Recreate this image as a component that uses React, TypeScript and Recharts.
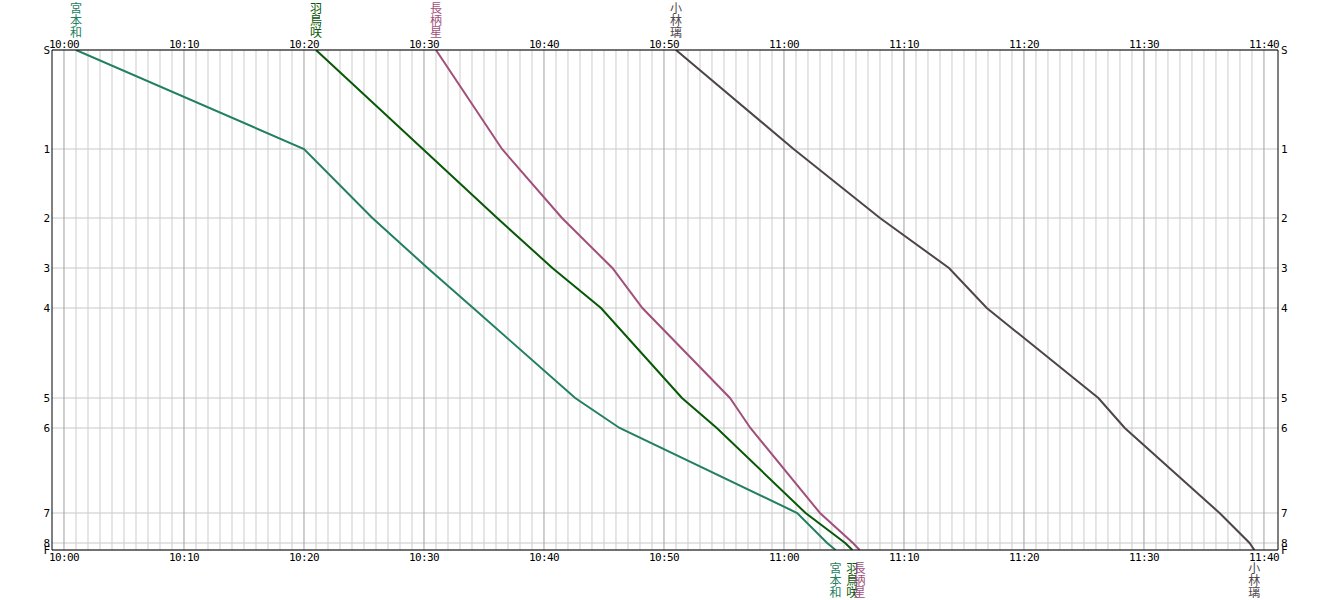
import { LineChart, Line, XAxis, YAxis, CartesianGrid, ReferenceLine, LabelList } from 'recharts'

// station labels and their distance along the course (chart units)
const stationNames = ['S', '1', '2', '3', '4', '5', '6', '7', '8', 'F']
const stationDist = [0, 99, 168, 218, 258, 348, 378, 463, 493, 500]

// passing times per station, minutes after 10:00
const miyamotoTimes = [1, 20, 25.7, 30.3, 34.1, 42.6, 46.3, 61.1, 63.6, 64.3]
const hatoriTimes = [21, 29.9, 36.1, 40.7, 44.75, 51.5, 54.4, 61.8, 65.1, 65.7]
const nagaraTimes = [31, 36.5, 41.5, 45.7, 48.2, 55.5, 57.2, 63, 65.75, 66.3]
const kobayashiTimes = [51, 60.8, 68, 73.75, 76.9, 86.2, 88.4, 96.3, 98.8, 99.2]

const runnerNames = ['宮本和', '羽鳥咲', '長柄星', '小林璃']
const runnerColors = ['#22805f', '#075807', '#a0507a', '#4e4549']
const runnerTimes = [miyamotoTimes, hatoriTimes, nagaraTimes, kobayashiTimes]

const timeTicks = [0, 10, 20, 30, 40, 50, 60, 70, 80, 90, 100]
const minuteLines = Array.from({ length: 101 }, (_, i) => i)

const tickFont = '"DejaVu Sans Mono", "Liberation Mono", monospace'
const nameFont = '"Noto Sans CJK JP", sans-serif'

function fmtTime(m: number): string {
  const h = 10 + Math.floor(m / 60)
  const mm = m % 60
  return `${h}:${mm < 10 ? '0' : ''}${mm}`
}

const TopTick = ({ x, y, payload }: any) => (
  <text x={x} y={y - 2} textAnchor="middle" fontSize={11} letterSpacing={-0.6} fontFamily={tickFont} fill="#000">
    {fmtTime(payload.value)}
  </text>
)
const BottomTick = ({ x, y, payload }: any) => (
  <text x={x} y={y + 11} textAnchor="middle" fontSize={11} letterSpacing={-0.6} fontFamily={tickFont} fill="#000">
    {fmtTime(payload.value)}
  </text>
)
const stationLabel = (v: number) => stationNames[stationDist.indexOf(v)]
const LeftTick = ({ x, y, payload }: any) => (
  <text x={x - 2} y={y + 4} textAnchor="end" fontSize={11} fontFamily={tickFont} fill="#000">
    {stationLabel(payload.value)}
  </text>
)
const RightTick = ({ x, y, payload }: any) => (
  <text x={x + 3} y={y + 4} textAnchor="start" fontSize={11} fontFamily={tickFont} fill="#000">
    {stationLabel(payload.value)}
  </text>
)

function nameLabel(name: string, color: string, last: number) {
  return (p: any) => {
    const x = p.x ?? p.viewBox?.x
    const y = p.y ?? p.viewBox?.y
    if (p.index !== 0 && p.index !== last) return null
    const base = p.index === 0 ? y - 37 : y + 23
    return (
      <g>
        {name.split('').map((c, i) => (
          <text key={i} x={x} y={base + 12 * i} textAnchor="middle" fontSize={12} fontFamily={nameFont} fill={color}>
            {c}
          </text>
        ))}
      </g>
    )
  }
}

export default function App() {
  const series = runnerTimes.map((times) => times.map((t, i) => ({ t, d: stationDist[i] })))
  return (
    <div style={{ position: 'absolute', left: 0, top: 0, background: '#fff' }}>
      <LineChart width={1331} height={600} margin={{ top: 30, bottom: 30, left: 32, right: 33 }}>
        <CartesianGrid xAxisId="b" yAxisId="l" vertical={false} stroke="#c8c8c8" strokeDasharray="" />
        {minuteLines.map((m) => (
          <ReferenceLine
            key={m}
            xAxisId="b"
            yAxisId="l"
            x={m}
            stroke={m % 10 === 0 ? '#a0a0a0' : '#cccccc'}
            strokeWidth={1}
          />
        ))}
        <XAxis
          xAxisId="t"
          orientation="top"
          type="number"
          dataKey="t"
          domain={[-1, 101.17]}
          ticks={timeTicks}
          interval={0}
          height={20}
          tickSize={0}
          tickMargin={0}
          tickLine={false}
          axisLine={{ stroke: '#000' }}
          tick={<TopTick />}
          allowDataOverflow
        />
        <XAxis
          xAxisId="b"
          orientation="bottom"
          type="number"
          dataKey="t"
          domain={[-1, 101.17]}
          ticks={timeTicks}
          interval={0}
          height={20}
          tickSize={0}
          tickMargin={0}
          tickLine={false}
          axisLine={{ stroke: '#000' }}
          tick={<BottomTick />}
          allowDataOverflow
        />
        <YAxis
          yAxisId="l"
          orientation="left"
          type="number"
          domain={[0, 500]}
          reversed
          ticks={stationDist}
          interval={0}
          width={20}
          tickSize={0}
          tickMargin={0}
          tickLine={false}
          axisLine={{ stroke: '#000' }}
          tick={<LeftTick />}
          allowDataOverflow
        />
        <YAxis
          yAxisId="r"
          orientation="right"
          type="number"
          domain={[0, 500]}
          reversed
          ticks={stationDist}
          interval={0}
          width={20}
          tickSize={0}
          tickMargin={0}
          tickLine={false}
          axisLine={{ stroke: '#000' }}
          tick={<RightTick />}
          allowDataOverflow
        />
        {series.map((data, k) => (
          <Line
            key={runnerNames[k]}
            xAxisId="b"
            yAxisId="l"
            data={data}
            dataKey="d"
            type="linear"
            stroke={runnerColors[k]}
            strokeWidth={2}
            dot={false}
            activeDot={false}
            isAnimationActive={false}
          >
            <LabelList dataKey="d" content={nameLabel(runnerNames[k], runnerColors[k], data.length - 1)} />
          </Line>
        ))}
      </LineChart>
    </div>
  )
}
